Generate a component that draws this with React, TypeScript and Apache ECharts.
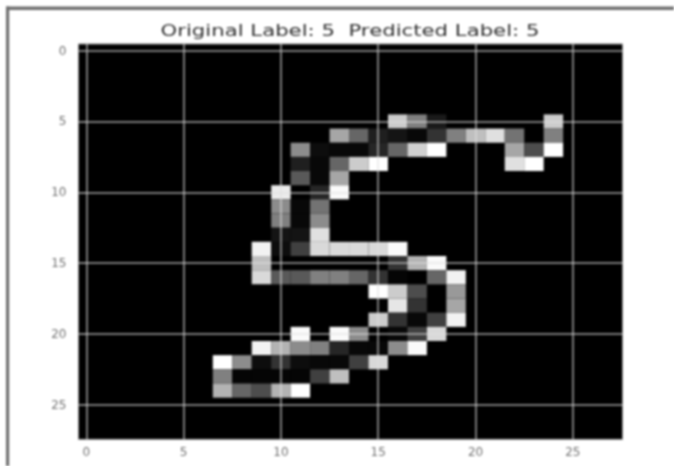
import React, { useEffect, useRef } from "react";
import * as echarts from "echarts";

const titleText = "Original Label: 5  Predicted Label: 5";
const tickValues = [0, 5, 10, 15, 20, 25];
const firstRow = 5;
const firstCol = 7;
// columns 7..24 of image rows 5..24, intensity 0..1
const rows: number[][] = [
  [0, 0, 0, 0, 0, 0, 0, 0, 0, .8, .5, .1, 0, 0, 0, 0, 0, .8],
  [0, 0, 0, 0, 0, 0, .65, .4, .12, .08, .03, .2, .5, .75, .88, .45, 0, .5],
  [0, 0, 0, 0, .55, .05, .03, .03, .15, .4, .82, 1, 0, 0, 0, .65, .3, 1],
  [0, 0, 0, 0, .12, .03, .4, .8, 1, 0, 0, 0, 0, 0, 0, .88, 1, 0],
  [0, 0, 0, 0, .35, .03, .65, 0, 0, 0, 0, 0, 0, 0, 0, 0, 0, 0],
  [0, 0, 0, .92, 0, .15, .98, 0, 0, 0, 0, 0, 0, 0, 0, 0, 0, 0],
  [0, 0, 0, .55, .03, .45, 0, 0, 0, 0, 0, 0, 0, 0, 0, 0, 0, 0],
  [0, 0, 0, .5, .03, .55, 0, 0, 0, 0, 0, 0, 0, 0, 0, 0, 0, 0],
  [0, 0, 0, .08, .08, .88, 0, 0, 0, 0, 0, 0, 0, 0, 0, 0, 0, 0],
  [0, 0, .95, .05, .25, .85, .85, .85, .85, .98, 0, 0, 0, 0, 0, 0, 0, 0],
  [0, 0, .75, 0, 0, 0, 0, 0, 0, .2, .7, .98, 0, 0, 0, 0, 0, 0],
  [0, 0, .85, .35, .35, .5, .5, .4, .2, .02, 0, .4, .95, 0, 0, 0, 0, 0],
  [0, 0, 0, 0, 0, 0, 0, 0, 1, .8, .3, 0, .6, 0, 0, 0, 0, 0],
  [0, 0, 0, 0, 0, 0, 0, 0, 0, .9, .2, 0, .65, 0, 0, 0, 0, 0],
  [0, 0, 0, 0, 0, 0, 0, 0, .8, .2, .03, .25, .95, 0, 0, 0, 0, 0],
  [0, 0, 0, 0, .98, 0, .98, .55, 0, .03, .25, .85, 0, 0, 0, 0, 0, 0],
  [0, 0, .95, .7, .55, .5, .15, .03, .03, .55, .98, 0, 0, 0, 0, 0, 0, 0],
  [1, .55, .05, .2, .05, .03, .03, .25, .85, 0, 0, 0, 0, 0, 0, 0, 0, 0],
  [.5, .02, .02, .02, .02, .25, .75, 0, 0, 0, 0, 0, 0, 0, 0, 0, 0, 0],
  [.7, .4, .3, .7, 1, 0, 0, 0, 0, 0, 0, 0, 0, 0, 0, 0, 0, 0],
];

const cells: number[][] = [];
rows.forEach((row, r) =>
  row.forEach((v, c) => {
    if (v > 0) cells.push([firstCol + c, firstRow + r, v]);
  })
);

const gray = (v: number) => {
  const g = Math.round(v * 255);
  return `rgb(${g},${g},${g})`;
};

const axisCommon = {
  type: "value",
  z: 5,
  axisLine: { show: false },
  axisTick: { show: true, length: 4, customValues: tickValues, lineStyle: { color: "#888", width: 1 } },
  splitLine: { show: true, lineStyle: { color: "rgba(225,225,225,0.72)", width: 1.5 } },
};
const labelStyle = { customValues: tickValues, color: "#707070", fontSize: 12, fontFamily: "DejaVu Sans" };

export default function App() {
  const ref = useRef<HTMLDivElement>(null);
  useEffect(() => {
    const chart = echarts.init(ref.current!, undefined, { renderer: "svg" });
    chart.setOption({
      animation: false,
      backgroundColor: "#ffffff",
      grid: {
        left: 78.5,
        right: 51.5,
        top: 44,
        bottom: 26.7,
        show: true,
        backgroundColor: "#000000",
        borderColor: "#888888",
        borderWidth: 1,
      },
      xAxis: { ...axisCommon, min: -0.4, max: 27.55, axisLabel: { ...labelStyle, margin: 7 } },
      yAxis: { ...axisCommon, min: -0.47, max: 27.44, inverse: true, axisLabel: { ...labelStyle, margin: 12 } },
      series: [
        {
          type: "custom",
          coordinateSystem: "cartesian2d",
          data: cells,
          encode: { x: 0, y: 1 },
          renderItem: (_params: any, api: any) => {
            const p = api.coord([api.value(0), api.value(1)]);
            const s = api.size([1, 1]);
            return {
              type: "rect",
              shape: { x: p[0] - s[0] / 2, y: p[1] - s[1] / 2, width: s[0], height: s[1] },
              style: { fill: gray(api.value(2)) },
            };
          },
        },
      ],
      graphic: [
        { type: "rect", shape: { x: 6, y: 6.5, width: 668, height: 3.4 }, style: { fill: "#6f6f6f" } },
        { type: "rect", shape: { x: 6, y: 6.5, width: 3.2, height: 460 }, style: { fill: "#6f6f6f" } },
        {
          type: "text",
          x: 350,
          y: 31,
          scaleX: 1.37,
          style: {
            text: titleText,
            fill: "#2f2f2f",
            font: "15.5px 'DejaVu Sans'",
            textAlign: "center",
            textVerticalAlign: "middle",
          },
        },
      ],
    });
    return () => chart.dispose();
  }, []);
  return (
    <div
      ref={ref}
      style={{ position: "absolute", left: 0, top: 0, width: 674, height: 466, filter: "blur(0.9px)" }}
    />
  );
}
